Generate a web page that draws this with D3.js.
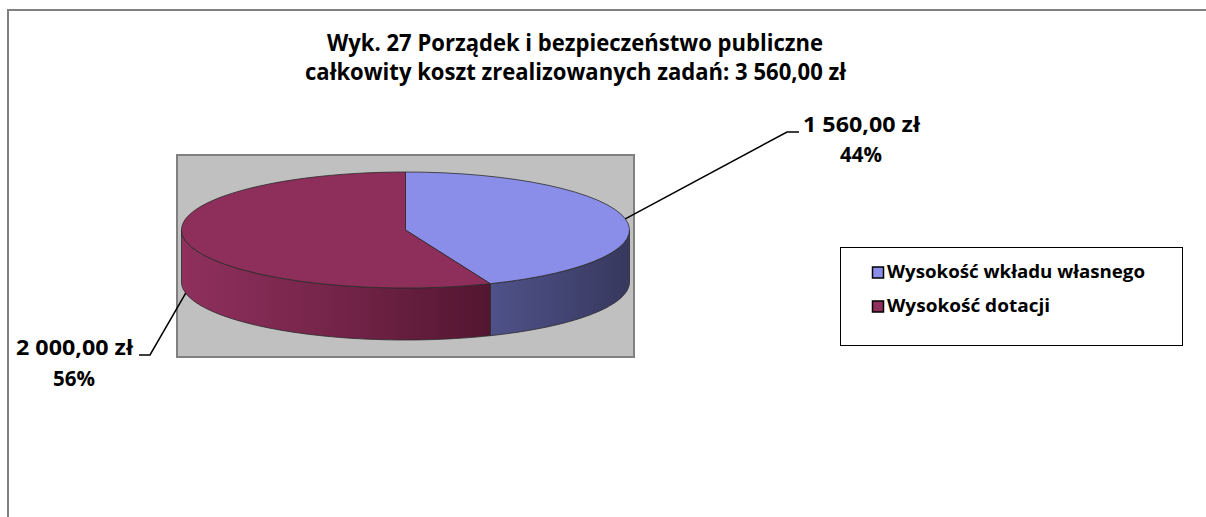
<!DOCTYPE html>
<html>
<head>
<meta charset="utf-8">
<script src="https://cdn.jsdelivr.net/npm/d3@7"></script>
<style>
  html, body { margin: 0; padding: 0; background: #fff; overflow: hidden; }
  svg { display: block; }
  text { font-family: "Open Sans", Lato, sans-serif; font-weight: 700; fill: #000; }
</style>
</head>
<body>
<svg id="chart" width="1206" height="517"></svg>
<script>
    // chart data
    const titleLines = ['Wyk. 27 Porządek i bezpieczeństwo publiczne',
        'całkowity koszt zrealizowanych zadań: 3 560,00 zł'];
    const categories = ['Wysokość wkładu własnego', 'Wysokość dotacji'];
    const values = [1560, 2000];
    const topColors = ['#8b8ee9', '#8e2e5a'];
    const sideColors = [['#4f5289', '#37385e'], ['#8f305d', '#531630']];

    const W = 1206, H = 517;
    const CX = 405.5, CY = 230, RX = 224, RY = 58, DEPTH = 52;

    const pl = d3.formatLocale({decimal: ',', thousands: ' ', grouping: [3], currency: ['', ' zł']});
    const money = pl.format('$,.2f');
    const pct = d3.format('.0%');
    const total = d3.sum(values);

    const svg = d3.select('#chart');

    // outer chart border (continues past the window on the right and bottom)
    svg.append('rect')
        .attr('x', 8).attr('y', 10)
        .attr('width', W + 20).attr('height', H + 20)
        .attr('fill', '#fff')
        .attr('stroke', '#808080')
        .attr('stroke-width', 2);

    // grey plot area
    svg.append('rect')
        .attr('x', 177).attr('y', 155)
        .attr('width', 457).attr('height', 202)
        .attr('fill', '#c0c0c0')
        .attr('stroke', '#808080')
        .attr('stroke-width', 2);

    // Calibri is narrow: keep the height, squeeze the run to the measured width
    const squeeze = (sel, size, target) => {
        sel.attr('font-size', size);
        if (target) {
            sel.attr('textLength', target).attr('lengthAdjust', 'spacingAndGlyphs');
        }
        return sel;
    };

    // title
    squeeze(svg.append('text')
        .attr('x', 575).attr('y', 51)
        .attr('text-anchor', 'middle')
        .text(titleLines[0]), 22.5, 496);
    squeeze(svg.append('text')
        .attr('x', 575.5).attr('y', 80)
        .attr('text-anchor', 'middle')
        .text(titleLines[1]), 22.5, 541);

    // 3D pie
    const arcs = d3.pie().sort(null).value(d => d)(values);
    const px = a => CX + RX * Math.sin(a);
    const py = a => CY - RY * Math.cos(a);

    const defs = svg.append('defs');
    const pieG = svg.append('g');

    const sides = arcs.map((d, i) => {
        const a0 = Math.max(d.startAngle, Math.PI / 2);
        const a1 = Math.min(d.endAngle, 3 * Math.PI / 2);
        return {i, a0, a1};
    }).filter(s => s.a1 > s.a0);

    sides.forEach(s => {
        const xs = [px(s.a0), px(s.a1)];
        const grad = defs.append('linearGradient')
            .attr('id', 'side' + s.i)
            .attr('gradientUnits', 'userSpaceOnUse')
            .attr('x1', d3.min(xs)).attr('x2', d3.max(xs))
            .attr('y1', 0).attr('y2', 0);
        const c = sideColors[s.i];
        const stops = s.i === 0 ? [c[0], c[1]] : [c[0], d3.interpolateRgb(c[0], c[1])(0.45), c[1]];
        stops.forEach((col, k) => grad.append('stop')
            .attr('offset', k / (stops.length - 1))
            .attr('stop-color', col));

        const p = d3.path();
        p.moveTo(px(s.a0), py(s.a0));
        const steps = 60;
        d3.range(1, steps + 1).forEach(k => {
            const a = s.a0 + (s.a1 - s.a0) * k / steps;
            p.lineTo(px(a), py(a));
        });
        p.lineTo(px(s.a1), py(s.a1) + DEPTH);
        d3.range(steps - 1, -1, -1).forEach(k => {
            const a = s.a0 + (s.a1 - s.a0) * k / steps;
            p.lineTo(px(a), py(a) + DEPTH);
        });
        p.closePath();
        pieG.append('path')
            .attr('d', p.toString())
            .attr('fill', `url(#side${s.i})`)
            .attr('stroke', '#2b2b2b')
            .attr('stroke-width', 0.8)
            .attr('stroke-linejoin', 'round');
    });

    const topFace = pieG.append('g')
        .attr('transform', `translate(${CX},${CY}) scale(1,${RY / RX})`);
    topFace.selectAll('path')
        .data(arcs)
        .join('path')
        .attr('d', d3.arc().innerRadius(0).outerRadius(RX))
        .attr('fill', (d, i) => topColors[i])
        .attr('stroke', '#2b2b2b')
        .attr('stroke-width', 0.8)
        .attr('vector-effect', 'non-scaling-stroke');

    // data labels with leader lines
    const mid = d => (d.startAngle + d.endAngle) / 2;
    const anchors = arcs.map(d => {
        const a = mid(d);
        const front = Math.cos(a) < 0;
        return [px(a), py(a) + (front && Math.abs(Math.sin(a)) > 0.9 ? DEPTH : 0)];
    });
    const bends = [[787, 132, 799], [150, 355, 139]];
    const labelPos = [
        {x: 803, y: 132, w: 117, px: 861, py: 162},
        {x: 16, y: 355, w: 117, px: 74, py: 386}
    ];

    anchors.forEach((a, i) => {
        const b = bends[i];
        svg.append('path')
            .attr('d', d3.line()([a, [b[0], b[1]], [b[2], b[1]]]))
            .attr('fill', 'none')
            .attr('stroke', '#000')
            .attr('stroke-width', 1.5);
        const lp = labelPos[i];
        squeeze(svg.append('text')
            .attr('x', lp.x).attr('y', lp.y)
            .text(money(values[i])), 21, lp.w);
        squeeze(svg.append('text')
            .attr('x', lp.px).attr('y', lp.py)
            .attr('text-anchor', 'middle')
            .text(pct(values[i] / total)), 20.5);
    });

    // legend
    const legendWidths = [258, 163];
    const legend = svg.append('g');
    legend.append('rect')
        .attr('x', 840.5).attr('y', 247.5)
        .attr('width', 342).attr('height', 98)
        .attr('fill', '#fff')
        .attr('stroke', '#000')
        .attr('stroke-width', 1);
    const items = legend.selectAll('g.item')
        .data(categories)
        .join('g')
        .attr('class', 'item')
        .attr('transform', (d, i) => `translate(872,${267 + i * 34})`);
    items.append('rect')
        .attr('x', 0.5).attr('y', 0)
        .attr('width', 11).attr('height', 11)
        .attr('fill', (d, i) => topColors[i])
        .attr('stroke', '#000')
        .attr('stroke-width', 1.5);
    items.append('text')
        .attr('x', 15).attr('y', 11)
        .text(d => d)
        .each(function (d, i) {
            squeeze(d3.select(this), 17.5, legendWidths[i]);
        });
</script>
</body>
</html>
